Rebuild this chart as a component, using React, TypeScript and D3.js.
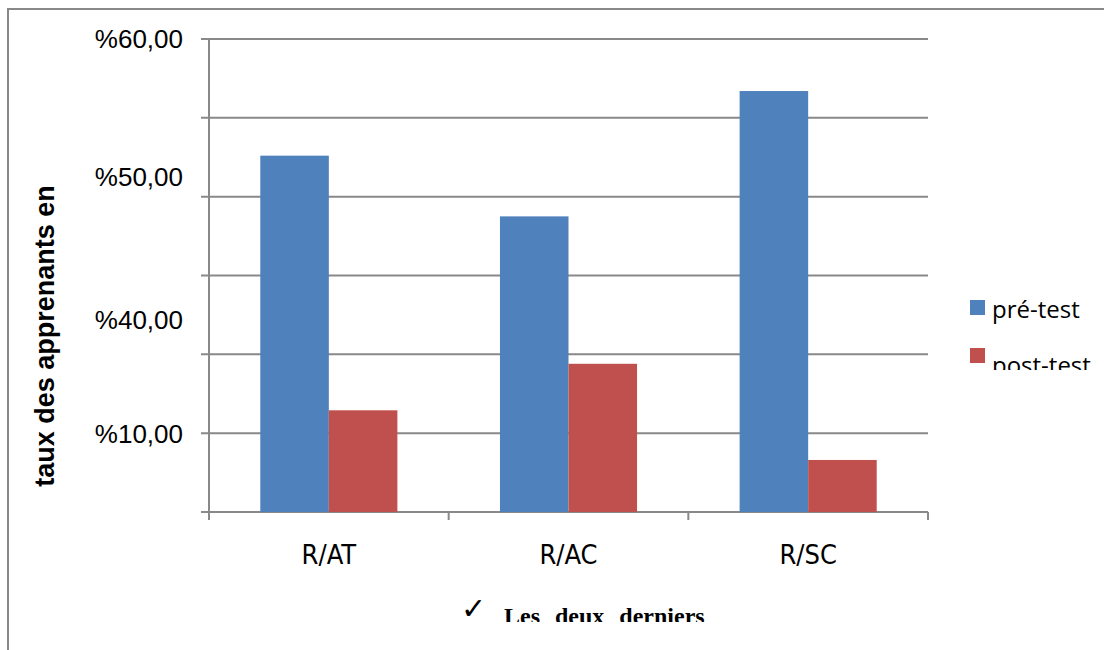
import React from "react";
import * as d3 from "d3";

const categories = ["R/AT", "R/AC", "R/SC"];
const seriesNames = ["pré-test", "post-test"];
const preTest = [45.2, 37.5, 53.4];
const postTest = [12.9, 18.8, 6.6];
const gridValues = [0, 10, 20, 30, 40, 50, 60];
const yTickLabels = ["%60,00", "%50,00", "%40,00", "%10,00"];
const yTickLabelValues = [60, 42.5, 24.4, 10];
const colors = ["#4F81BD", "#C0504D"];

const W = 1104;
const H = 650;
const plot = { left: 209, right: 928, top: 39, bottom: 512 };

export default function App() {
  const y = d3.scaleLinear().domain([0, 60]).range([plot.bottom, plot.top]);
  const x0 = d3.scaleBand().domain(categories).range([plot.left, plot.right]).padding(0);
  const groupW = x0.bandwidth() * 0.572;
  const x1 = d3.scaleBand().domain(seriesNames).range([0, groupW]).padding(0);
  const series = [preTest, postTest];
  const bounds = [plot.left, ...categories.map((c) => (x0(c) as number) + x0.bandwidth())];
  const grid = "#898989";

  return (
    <svg width={W} height={H} style={{ position: "absolute", left: 0, top: 0 }}>
      <defs>
        <clipPath id="legendClip">
          <rect x={940} y={280} width={164} height={90} />
        </clipPath>
        <clipPath id="bottomClip">
          <rect x={300} y={580} width={600} height={42} />
        </clipPath>
      </defs>
      <rect x={0} y={0} width={W} height={H} fill="#fff" />
      {/* outer border */}
      <line x1={8} x2={8} y1={8} y2={H} stroke="#888" strokeWidth={2} />
      <line x1={7} x2={W} y1={9} y2={9} stroke="#888" strokeWidth={2} />

      {/* gridlines */}
      {gridValues.map((v) => (
        <line key={v} x1={plot.left - 8} x2={plot.right} y1={y(v)} y2={y(v)} stroke={grid} strokeWidth={2} />
      ))}
      {/* y axis */}
      <line x1={plot.left} x2={plot.left} y1={plot.top} y2={plot.bottom + 8} stroke={grid} strokeWidth={2} />
      {/* x ticks */}
      {bounds.map((b, i) => (
        <line key={i} x1={b} x2={b} y1={plot.bottom} y2={plot.bottom + 8} stroke={grid} strokeWidth={2} />
      ))}

      {/* bars */}
      {categories.map((c, ci) => {
        const gx = (x0(c) as number) + (x0.bandwidth() - groupW) / 2;
        return series.map((s, si) => (
          <rect
            key={c + si}
            x={gx + (x1(seriesNames[si]) as number)}
            y={y(s[ci])}
            width={x1.bandwidth()}
            height={y(0) - y(s[ci])}
            fill={colors[si]}
          />
        ));
      })}

      {/* y tick labels */}
      {yTickLabels.map((t, i) => (
        <text
          key={t}
          x={183}
          y={y(yTickLabelValues[i])}
          dy="0.36em"
          textAnchor="end"
          fontFamily="Liberation Sans, Arial, sans-serif"
          fontSize={26}
          fill="#000"
        >
          {t}
        </text>
      ))}

      {/* category labels */}
      {categories.map((c) => (
        <text
          key={c}
          x={(x0(c) as number) + x0.bandwidth() / 2}
          y={564}
          textAnchor="middle"
          fontFamily="Liberation Sans Narrow, DejaVu Sans Condensed, sans-serif"
          fontSize={27}
          fill="#000"
        >
          {c}
        </text>
      ))}

      {/* y axis title */}
      <text
        transform={`translate(54,336) rotate(-90)`}
        textAnchor="middle"
        fontFamily="Liberation Sans, Arial, sans-serif"
        fontWeight="bold"
        fontSize={27}
        fill="#000"
      >
        taux des apprenants en
      </text>

      {/* legend */}
      <g clipPath="url(#legendClip)">
        {seriesNames.map((n, i) => (
          <g key={n} transform={`translate(970,${300 + i * 48})`}>
            <rect x={0} y={0} width={15} height={15} fill={colors[i]} />
            <text x={22} y={18 + i * 8} fontFamily="Open Sans, sans-serif" fontSize={24} fill="#000">
              {n}
            </text>
          </g>
        ))}
      </g>

      {/* bottom caption */}
      <g clipPath="url(#bottomClip)">
        <text x={461} y={619} fontFamily="DejaVu Sans, sans-serif" fontSize={30} fill="#000">
          ✓
        </text>
        <text x={504} y={624} fontFamily="Liberation Serif, Times New Roman, serif" fontSize={24} fontWeight="bold" wordSpacing={9} fill="#000">
          Les deux derniers
        </text>
      </g>
    </svg>
  );
}
